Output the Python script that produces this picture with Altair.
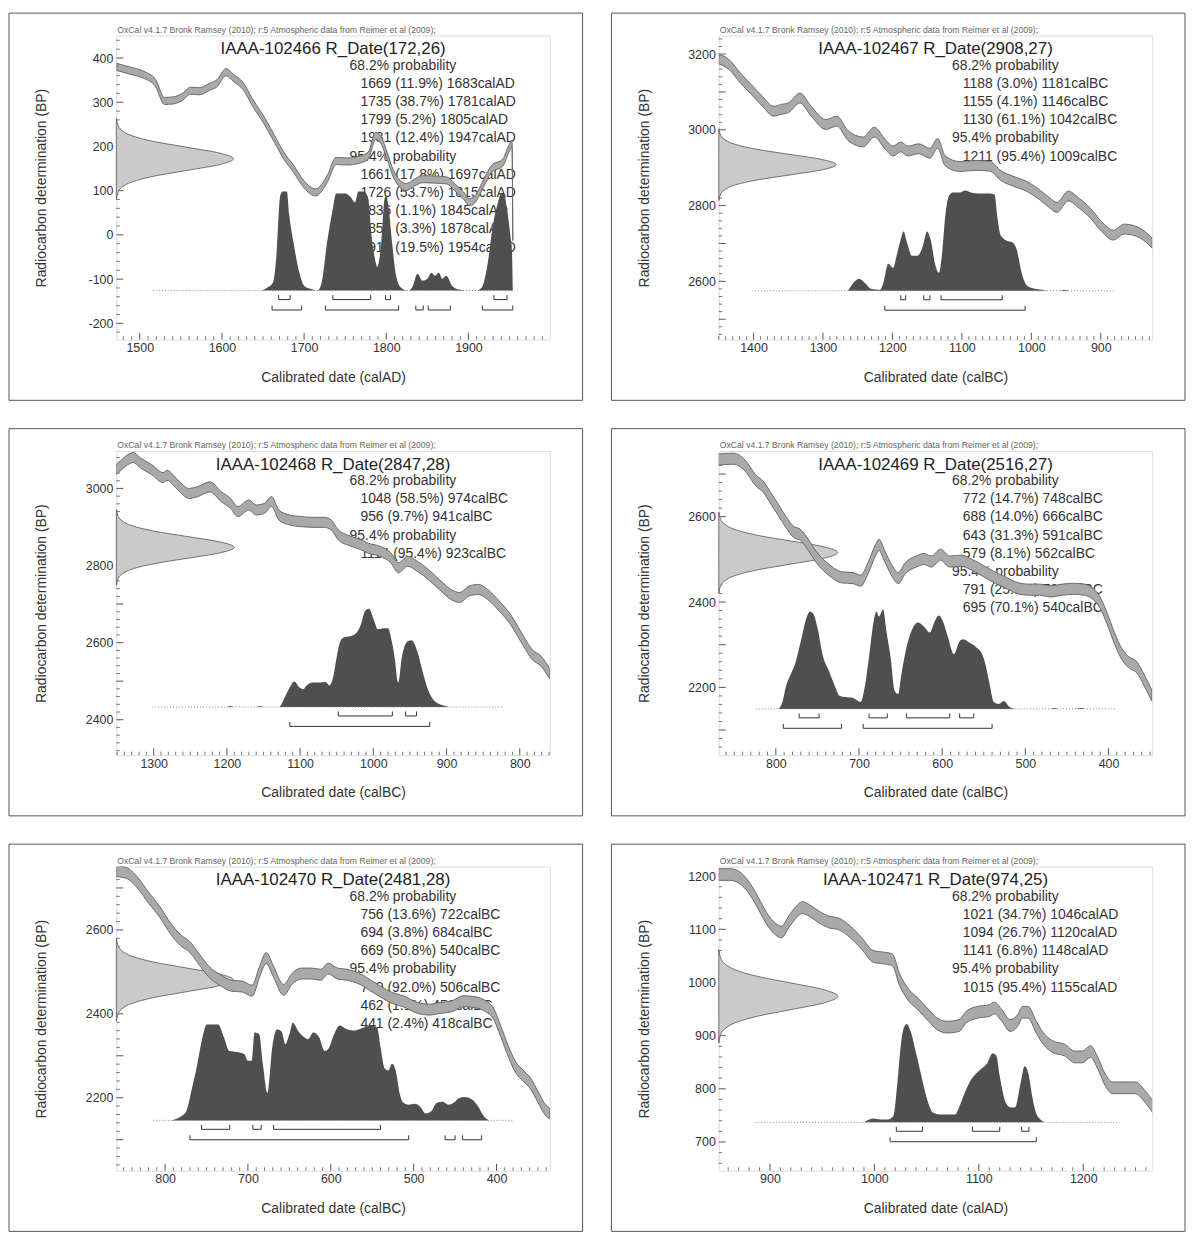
import math
import altair as alt
import pandas as pd

FONT = "Liberation Sans"
CREDIT = "OxCal v4.1.7 Bronk Ramsey (2010); r:5 Atmospheric data from Reimer et al (2009);"

# relative shape of the radiocarbon-date (BP) distribution drawn on the left axis
RD_SIG = [-3.5, -3.0, -2.5, -2.0, -1.5, -1.0, -0.5, 0.0, 0.5, 1.0, 1.5, 2.0, 2.5, 3.0, 3.5]
RD_REL = [0.2, 1.1, 4.4, 13.5, 32.5, 60.7, 88.2, 100, 88.2, 60.7, 32.5, 13.5, 4.4, 1.1, 0.2]

# ---------------- Panel 1 : IAAA-102466 ----------------
p1_cal_year = [1472, 1487, 1505, 1519, 1530, 1540, 1551, 1562, 1573, 1585, 1594, 1605, 1614, 1626, 1637,
               1650, 1664, 1675, 1687, 1700, 1714, 1728, 1739, 1753, 1767, 1778, 1787, 1794, 1801, 1808,
               1815, 1824, 1835, 1844, 1860, 1874, 1883, 1894, 1901, 1908, 1919, 1928, 1942, 1949, 1953, 1954]
p1_cal_bp = [380, 372, 362, 344, 303, 304, 311, 326, 325, 335, 343, 368, 355, 336, 300,
             263, 217, 180, 150, 114, 96, 126, 167, 166, 170, 179, 224, 213, 179, 141,
             119, 108, 119, 126, 125, 123, 108, 89, 74, 81, 119, 149, 164, 194, 206, -5]
p1_dist_year = [1648, 1655, 1662, 1666, 1671, 1674, 1679, 1682, 1687, 1694, 1700, 1707, 1716, 1721, 1728,
                1735, 1739, 1750, 1757, 1762, 1766, 1773, 1778, 1782, 1787, 1789, 1794, 1798, 1800, 1803,
                1807, 1812, 1818, 1827, 1832, 1838, 1844, 1850, 1855, 1859, 1864, 1868, 1873, 1880, 1889,
                1898, 1909, 1916, 1923, 1929, 1936, 1940, 1944, 1947, 1951, 1953, 1954]
p1_dist_p = [0, 3, 8, 32, 96, 100, 100, 76, 49, 19, 5, 2, 0, 7, 49,
             83, 98, 98, 94, 89, 100, 100, 93, 56, 29, 24, 49, 93, 96, 83,
             49, 15, 3, 0, 4, 17, 10, 12, 18, 15, 18, 12, 15, 5, 1,
             0, 0, 3, 25, 62, 89, 98, 96, 82, 56, 40, 0]
p1_r68 = [(1669, 11.9, 1683), (1735, 38.7, 1781), (1799, 5.2, 1805), (1931, 12.4, 1947)]
p1_r95 = [(1661, 17.8, 1697), (1726, 53.7, 1815), (1836, 1.1, 1845), (1851, 3.3, 1878), (1917, 19.5, 1954)]

# ---------------- Panel 2 : IAAA-102467 ----------------
p2_cal_year = [1450, 1435, 1419, 1403, 1387, 1371, 1360, 1350, 1333, 1317, 1296, 1280, 1264, 1242, 1226,
               1210, 1199, 1188, 1178, 1162, 1146, 1135, 1124, 1103, 1081, 1060, 1043, 1027, 1006, 987,
               974, 963, 947, 931, 915, 899, 882, 866, 845, 826]
p2_cal_bp = [3187, 3172, 3137, 3106, 3075, 3049, 3054, 3058, 3084, 3049, 3014, 3023, 2985, 2968, 2994,
             2961, 2944, 2955, 2944, 2950, 2938, 2964, 2918, 2903, 2906, 2904, 2878, 2865, 2850, 2827,
             2808, 2795, 2825, 2806, 2780, 2745, 2722, 2738, 2729, 2701]
p2_dist_year = [1264, 1256, 1248, 1240, 1231, 1218, 1213, 1206, 1199, 1194, 1188, 1184, 1179, 1172, 1164,
                1156, 1150, 1145, 1138, 1133, 1128, 1124, 1119, 1113, 1103, 1095, 1087, 1076, 1060, 1053,
                1049, 1044, 1036, 1027, 1021, 1014, 1006, 995, 985, 974, 960, 953, 945]
p2_dist_p = [0, 8, 12, 8, 2, 1, 8, 27, 23, 35, 51, 59, 48, 35, 35,
             45, 59, 51, 25, 18, 41, 74, 94, 98, 98, 100, 98, 97, 97, 96,
             74, 55, 50, 48, 41, 18, 5, 2, 1, 0, 0, 1, 0]
p2_r68 = [(1188, 3.0, 1181), (1155, 4.1, 1146), (1130, 61.1, 1042)]
p2_r95 = [(1211, 95.4, 1009)]

# ---------------- Panel 3 : IAAA-102468 ----------------
p3_cal_year = [1351, 1348, 1338, 1328, 1318, 1303, 1287, 1282, 1267, 1252, 1241, 1223, 1208, 1195, 1185,
               1170, 1160, 1149, 1139, 1129, 1114, 1099, 1083, 1068, 1058, 1048, 1032, 1017, 1007, 991,
               976, 966, 953, 940, 925, 910, 894, 882, 869, 856, 844, 828, 813, 798, 782, 772, 759]
p3_cal_bp = [3050, 3054, 3071, 3080, 3066, 3049, 3028, 3034, 3009, 2987, 2991, 3004, 2979, 2961, 2940,
             2957, 2944, 2948, 2966, 2931, 2918, 2914, 2912, 2912, 2906, 2880, 2864, 2854, 2845, 2837,
             2820, 2794, 2811, 2798, 2777, 2751, 2725, 2717, 2734, 2738, 2725, 2695, 2661, 2614, 2567, 2554, 2519]
p3_dist_year = [1200, 1195, 1190, 1160, 1155, 1150, 1129, 1121, 1114, 1108, 1101, 1096, 1091, 1083, 1073,
                1065, 1060, 1055, 1050, 1045, 1040, 1032, 1025, 1017, 1011, 1006, 999, 994, 986, 980,
                976, 971, 966, 961, 953, 948, 940, 933, 925, 915, 902, 897]
p3_dist_p = [0, 1, 0, 0, 1, 0, 0, 10, 20, 26, 20, 18, 22, 25, 25,
             25.5, 22, 30, 51, 67, 71, 72, 74, 84, 98, 100, 88, 79, 80, 80,
             71, 51, 25, 51, 67, 68, 57, 37, 17, 5, 1, 0]
p3_r68 = [(1048, 58.5, 974), (956, 9.7, 941)]
p3_r95 = [(1114, 95.4, 923)]

# ---------------- Panel 4 : IAAA-102469 ----------------
p4_cal_year = [869, 851, 837, 824, 815, 806, 797, 788, 779, 770, 761, 752, 743, 734, 721,
               707, 698, 689, 680, 676, 669, 660, 653, 644, 631, 622, 613, 602, 591, 577,
               564, 550, 537, 523, 510, 496, 483, 470, 456, 443, 429, 420, 411, 402, 393,
               384, 375, 366, 357, 348]
p4_cal_bp = [2734, 2736, 2720, 2685, 2670, 2643, 2616, 2588, 2565, 2557, 2534, 2507, 2487, 2472, 2458,
             2456, 2450, 2480, 2522, 2534, 2507, 2472, 2456, 2480, 2495, 2501, 2495, 2511, 2495, 2497,
             2487, 2472, 2458, 2445, 2433, 2429, 2429, 2425, 2429, 2431, 2429, 2421, 2402, 2363, 2316,
             2278, 2258, 2247, 2216, 2181]
p4_dist_year = [797, 792, 788, 781, 777, 770, 763, 759, 754.5, 750, 743, 736, 730, 723, 716,
                707, 698, 694, 688, 683, 679, 676, 671, 667, 662, 657, 653, 649, 642, 635,
                629, 622, 615, 609, 604, 599, 593, 586, 579, 575, 568, 559, 552, 548, 543,
                538, 532, 526, 519, 512, 470, 465, 460, 440, 434, 428]
p4_dist_p = [0, 7, 22, 37, 45, 68, 92, 98, 95, 82, 52, 38, 25, 13, 12,
             11, 7, 18, 52, 85, 98, 93, 100, 78, 52, 18, 15, 35, 65, 82,
             87, 83, 77, 88, 94, 88, 72, 55, 68, 70, 67, 62, 55, 45, 25,
             7, 5, 8, 2, 0, 0, 1, 0, 0, 1, 0]
p4_r68 = [(772, 14.7, 748), (688, 14.0, 666), (643, 31.3, 591), (579, 8.1, 562)]
p4_r95 = [(791, 25.3, 721), (695, 70.1, 540)]

# ---------------- Panel 5 : IAAA-102470 ----------------
p5_cal_year = [859, 847, 833, 820, 806, 793, 781, 770, 761, 747, 734, 720, 707, 695, 686,
               678, 669, 657, 646, 635, 623, 612, 603, 592, 580, 567, 553, 540, 526, 513,
               495, 481, 468, 454, 440, 427, 413, 404, 395, 386, 377, 368, 359, 350, 341, 336]
p5_cal_bp = [2740, 2736, 2712, 2677, 2642, 2602, 2575, 2559, 2536, 2500, 2481, 2467, 2465, 2455, 2500,
             2533, 2500, 2457, 2485, 2496, 2496, 2493, 2508, 2496, 2493, 2485, 2469, 2453, 2438, 2430,
             2414, 2410, 2414, 2418, 2430, 2428, 2418, 2402, 2359, 2312, 2273, 2253, 2234, 2202, 2171, 2163]
p5_dist_year = [792.5, 781, 774.5, 768, 761, 754, 749.6, 736, 729, 722.5, 713.5, 704.5, 700, 695.4, 692,
                686.4, 682, 676.5, 670.6, 665, 659.3, 654.8, 650, 645.8, 639, 632, 627.7, 621, 614, 607.5,
                603, 596, 589.4, 580, 571, 560, 551, 544, 540, 535, 530.7, 526, 521.7, 517, 512.6,
                506, 499, 492, 485.6, 479, 472, 465, 458, 451.7, 445, 438, 429, 422, 416, 409]
p5_dist_p = [0, 4, 9, 31, 58, 88, 98, 98, 85, 71, 70, 68, 61, 61, 90,
             88, 58, 28, 75, 93, 91, 78, 88, 100, 91, 85, 83, 90, 85, 71,
             73, 88, 97, 93, 92, 95, 97, 95, 75, 53, 51, 58, 51, 28, 18,
             16, 17, 14, 7, 9, 18, 19, 16, 18, 23, 24, 21, 14, 5, 0]
p5_r68 = [(756, 13.6, 722), (694, 3.8, 684), (669, 50.8, 540)]
p5_r95 = [(770, 92.0, 506), (462, 1.1, 450), (441, 2.4, 418)]

# ---------------- Panel 6 : IAAA-102471 ----------------
p6_cal_year = [851, 862, 873, 884, 891, 898, 905, 911, 918, 925, 931, 938, 947, 956, 966,
               977, 988, 999, 1009, 1017, 1024, 1031, 1042, 1052, 1060, 1070, 1081, 1088, 1099, 1110,
               1115, 1122, 1130, 1137, 1142, 1147, 1155, 1162, 1171, 1182, 1192, 1199, 1207, 1214, 1221,
               1228, 1239, 1250, 1259, 1268]
p6_cal_bp = [1203, 1203, 1194, 1166, 1141, 1117, 1101, 1095, 1114, 1132, 1141, 1135, 1123, 1114, 1110,
             1095, 1073, 1049, 1046, 1043, 1006, 981, 959, 938, 922, 916, 919, 935, 944, 947,
             952, 938, 919, 928, 944, 944, 916, 894, 879, 873, 860, 860, 870, 848, 817,
             802, 802, 802, 786, 762]
p6_dist_year = [989.7, 993, 998.7, 1006, 1013, 1018.4, 1022, 1025.5, 1028.4, 1031, 1034.5, 1040, 1045, 1050.6, 1056,
                1063, 1072, 1077.5, 1081, 1086.5, 1093.6, 1100.8, 1108, 1113, 1116.7, 1120, 1125.8, 1131, 1134.6, 1140,
                1143.8, 1147.4, 1151, 1154.6, 1160, 1163.5]
p6_dist_p = [0, 2, 4, 3, 3, 7, 40, 80, 97, 100, 93, 70, 47, 23, 10,
             8, 8, 8, 15, 30, 45, 53, 60, 70, 68, 47, 20, 15, 15, 40,
             57, 50, 27, 10, 2, 0]
p6_r68 = [(1021, 34.7, 1046), (1094, 26.7, 1120), (1141, 6.8, 1148)]
p6_r95 = [(1015, 95.4, 1155)]

PANELS = [
    dict(name="IAAA-102466", mean=172, sd=26, era="AD", xdom=[1471.5, 1999], ydom=[-237, 451],
         xlab=[1500, 1600, 1700, 1800, 1900], ylab=[-200, -100, 0, 100, 200, 300, 400],
         rdw=142.5, half=8, base=-126, height=224, brange=(1516, 1955),
         cy=p1_cal_year, cb=p1_cal_bp, dy=p1_dist_year, dp=p1_dist_p, r68=p1_r68, r95=p1_r95),
    dict(name="IAAA-102467", mean=2908, sd=27, era="BC", xdom=[826, 1450], ydom=[2446, 3249],
         xlab=[900, 1000, 1100, 1200, 1300, 1400], ylab=[2600, 2800, 3000, 3200],
         rdw=169, half=13, base=2575, height=265, brange=(1398, 880),
         cy=p2_cal_year, cb=p2_cal_bp, dy=p2_dist_year, dp=p2_dist_p, r68=p2_r68, r95=p2_r95),
    dict(name="IAAA-102468", mean=2847, sd=28, era="BC", xdom=[759, 1351], ydom=[2308, 3097],
         xlab=[800, 900, 1000, 1100, 1200, 1300], ylab=[2400, 2600, 2800, 3000],
         rdw=161, half=13, base=2433, height=255, brange=(1302, 823),
         cy=p3_cal_year, cb=p3_cal_bp, dy=p3_dist_year, dp=p3_dist_p, r68=p3_r68, r95=p3_r95),
    dict(name="IAAA-102469", mean=2516, sd=27, era="BC", xdom=[347.5, 868.6], ydom=[2041, 2754],
         xlab=[400, 500, 600, 700, 800], ylab=[2200, 2400, 2600],
         rdw=143, half=13, base=2149.5, height=233, brange=(824, 390),
         cy=p4_cal_year, cb=p4_cal_bp, dy=p4_dist_year, dp=p4_dist_p, r68=p4_r68, r95=p4_r95),
    dict(name="IAAA-102470", mean=2481, sd=28, era="BC", xdom=[335.7, 858.8], ydom=[2026, 2751],
         xlab=[400, 500, 600, 700, 800], ylab=[2200, 2400, 2600],
         rdw=141, half=13, base=2146, height=233, brange=(814, 380),
         cy=p5_cal_year, cb=p5_cal_bp, dy=p5_dist_year, dp=p5_dist_p, r68=p5_r68, r95=p5_r95),
    dict(name="IAAA-102471", mean=974, sd=25, era="AD", xdom=[851, 1266], ydom=[646, 1218],
         xlab=[900, 1000, 1100, 1200], ylab=[700, 800, 900, 1000, 1100, 1200],
         rdw=114, half=11, base=737, height=185, brange=(886, 1233),
         cy=p6_cal_year, cb=p6_cal_bp, dy=p6_dist_year, dp=p6_dist_p, r68=p6_r68, r95=p6_r95),
]

W, H = 436, 306
ONE = pd.DataFrame({"k": [0]})


def make_panel(P):
    rev = P["era"] == "BC"
    lo, hi = P["xdom"]
    xs = alt.Scale(domain=P["xdom"], reverse=rev, nice=False, zero=False)
    ys = alt.Scale(domain=P["ydom"], nice=False, zero=False)
    xax = alt.Axis(values=P["xlab"], title=f"Calibrated date (cal{P['era']})", grid=False, ticks=False,
                   tickSize=0, domain=False, labelPadding=2, labelFontSize=12.5, labelColor="#333",
                   labelFont=FONT, labelExpr="'' + datum.value", labelFlush=False, labelOverlap=False,
                   titleFont=FONT, titleFontSize=14, titleFontWeight="normal", titleColor="#333",
                   titleX=W / 2, titleY=38, titleAlign="center", titleBaseline="middle")
    yax = alt.Axis(values=P["ylab"], title="Radiocarbon determination (BP)", grid=False, ticks=False,
                   tickSize=0, domain=False, labelPadding=3.5, labelFontSize=12.5, labelColor="#333",
                   labelFont=FONT, labelExpr="'' + datum.value", labelFlush=False, labelOverlap=False,
                   titleFont=FONT, titleFontSize=14, titleFontWeight="normal", titleColor="#333",
                   titleX=-75, titleY=H / 2, titleAngle=270, titleAlign="center", titleBaseline="middle")

    def X(f):
        return alt.X(f, type="quantitative", scale=xs, axis=xax)

    def Y(f):
        return alt.Y(f, type="quantitative", scale=ys, axis=yax)

    layers = []
    # outer panel box
    layers.append(alt.Chart(ONE).mark_rect(filled=False, stroke="#555", strokeWidth=1).encode(
        x=alt.value(-108), x2=alt.value(W + 33), y=alt.value(-22.5), y2=alt.value(H + 61)))

    # inward ticks
    x_major = [v for v in range(int(math.ceil(lo / 100.0)) * 100, int(hi) + 1, 100)]
    x_minor = [v for v in range(int(math.ceil(lo / 10.0)) * 10, int(hi) + 1, 10) if v % 100 != 0]
    ylo, yhi = P["ydom"]
    y_major = [v for v in range(int(math.ceil(ylo / 100.0)) * 100, int(yhi) + 1, 100)]
    y_minor = [v for v in range(int(math.ceil(ylo / 20.0)) * 20, int(yhi) + 1, 20) if v % 100 != 0]
    tick_col = "#555"
    layers.append(alt.Chart(pd.DataFrame({"v": x_major})).mark_rule(color=tick_col, strokeWidth=1).encode(
        x=X("v"), y=alt.value(H), y2=alt.value(H - 7)))
    layers.append(alt.Chart(pd.DataFrame({"v": x_minor})).mark_rule(color=tick_col, strokeWidth=0.8).encode(
        x=X("v"), y=alt.value(H), y2=alt.value(H - 3.5)))
    layers.append(alt.Chart(pd.DataFrame({"v": y_major})).mark_rule(color=tick_col, strokeWidth=1).encode(
        y=Y("v"), x=alt.value(0), x2=alt.value(7)))
    layers.append(alt.Chart(pd.DataFrame({"v": y_minor})).mark_rule(color=tick_col, strokeWidth=0.8).encode(
        y=Y("v"), x=alt.value(0), x2=alt.value(3.5)))

    # texts
    title = f"{P['name']} R_Date({P['mean']},{P['sd']})"
    layers.append(alt.Chart(ONE).mark_text(font=FONT, fontSize=17, color="#222", align="center",
                                           baseline="alphabetic").encode(
        x=alt.value(W / 2), y=alt.value(18.8), text=alt.value(title)))
    lines = [("68.2% probability", True)]
    lines += [(f"{a} ({p:.1f}%) {b}cal{P['era']}", False) for a, p, b in P["r68"]]
    lines += [("95.4% probability", True)]
    lines += [(f"{a} ({p:.1f}%) {b}cal{P['era']}", False) for a, p, b in P["r95"]]
    for i, (txt, head) in enumerate(lines):
        layers.append(alt.Chart(ONE).mark_text(font=FONT, fontSize=14, color="#333", align="left",
                                               baseline="alphabetic").encode(
            x=alt.value(234.6 if head else 245.5), y=alt.value(34.3 + 18.3 * i), text=alt.value(txt)))
    layers.append(alt.Chart(ONE).mark_text(font=FONT, fontSize=8.7, color="#666", align="left",
                                           baseline="alphabetic").encode(
        x=alt.value(1), y=alt.value(-3), text=alt.value(CREDIT)))

    # calibrated probability distribution
    dist = pd.DataFrame({"year": P["dy"], "p": P["dp"]})
    dist["top"] = P["base"] + dist["p"] / 100.0 * P["height"]
    dist["bot"] = P["base"]
    layers.append(alt.Chart(dist).mark_area(color="#4f4f4f", interpolate="monotone", clip=True).encode(
        x=X("year"), y=Y("top"), y2=alt.Y2("bot")))

    # dotted baseline
    bl = pd.DataFrame({"a": [P["brange"][0]], "b": [P["brange"][1]], "y": [P["base"]]})
    layers.append(alt.Chart(bl).mark_rule(color="#888", strokeWidth=1, strokeDash=[1, 2]).encode(
        x=X("a"), x2=alt.X2("b"), y=Y("y")))

    # range brackets
    for rng, off in ((P["r68"], 9), (P["r95"], 19.5)):
        br = pd.DataFrame({"a": [r[0] for r in rng], "b": [r[2] for r in rng], "y": [P["base"]] * len(rng)})
        layers.append(alt.Chart(br).mark_rule(color="#333", strokeWidth=1, yOffset=off).encode(
            x=X("a"), x2=alt.X2("b"), y=Y("y")))
        ends = pd.DataFrame({"e": [r[0] for r in rng] + [r[2] for r in rng],
                             "y": [P["base"]] * (2 * len(rng))})
        layers.append(alt.Chart(ends).mark_rule(color="#333", strokeWidth=1, yOffset=off - 4.5,
                                                y2Offset=off).encode(
            x=X("e"), y=Y("y"), y2=alt.Y2("y")))

    # radiocarbon date distribution on the left axis
    x0 = hi if rev else lo
    sgn = -1 if rev else 1
    rd = pd.DataFrame({"bp": [P["mean"] + s * P["sd"] for s in RD_SIG], "rel": RD_REL})
    rd["xv"] = x0 + sgn * rd["rel"] / 100.0 * P["rdw"]
    rd["x0"] = x0
    layers.append(alt.Chart(rd).mark_area(orient="horizontal", fill="#cacaca", stroke="#555",
                                          strokeWidth=0.8, interpolate="monotone").encode(
        y=Y("bp"), x=X("xv"), x2=alt.X2("x0")))

    # calibration curve band
    cal = pd.DataFrame({"year": P["cy"], "bp": P["cb"]})
    cal["hi"] = cal["bp"] + P["half"]
    cal["lo"] = cal["bp"] - P["half"]
    layers.append(alt.Chart(cal).mark_area(fill="#a9a9a9", stroke="#6a6a6a", strokeWidth=1,
                                           interpolate="monotone", clip=True).encode(
        x=X("year"), y=Y("hi"), y2=alt.Y2("lo")))

    return alt.layer(*layers).properties(width=W, height=H)


panels = [make_panel(P) for P in PANELS]
rows = [alt.hconcat(panels[i], panels[i + 1], spacing=27) for i in (0, 2, 4)]
chart = alt.vconcat(*rows, spacing=26).properties(
    padding={"left": 0, "top": 0, "right": 0, "bottom": 0}
).configure_view(stroke="#555", strokeWidth=1).configure(font=FONT, background="white")

chart.save("out.html", embed_options={"renderer": "svg", "actions": False})
